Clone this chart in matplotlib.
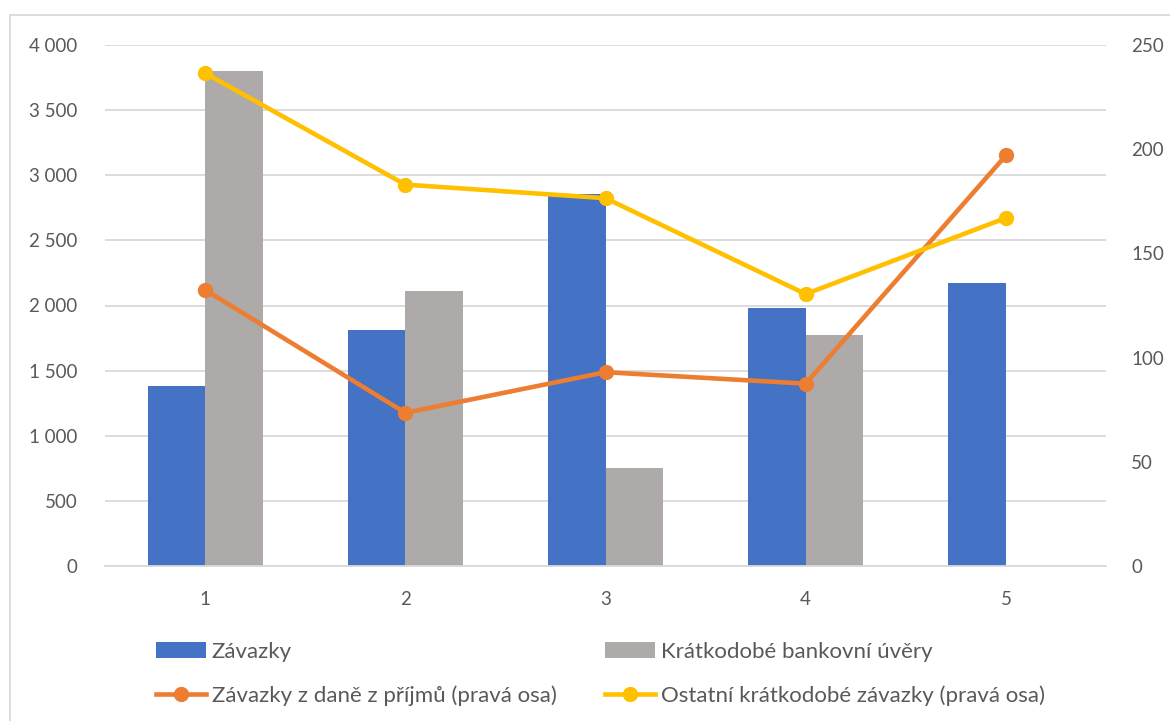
import numpy as np
import matplotlib.pyplot as plt
from matplotlib.patches import Rectangle
from matplotlib.ticker import FuncFormatter

plt.rcParams['font.family'] = ['Lato', 'DejaVu Sans']

# data
kategorie = ['1', '2', '3', '4', '5']
zavazky = [1380, 1810, 2855, 1980, 2175]
bank_uvery = [3800, 2110, 755, 1770, 0]
dan_prijmy = [132.5, 73.5, 93.0, 87.5, 197.0]
ostatni = [236.5, 183.0, 176.5, 130.5, 167.0]

c_blue = '#4472C4'
c_gray = '#AEAAAA'
c_orange = '#ED7D31'
c_yellow = '#FFC000'
c_text = '#595959'
c_grid = '#D9D9D9'

fig = plt.figure(figsize=(11.7, 7.21), dpi=100)
ax = fig.add_axes([105/1170, 1 - 566/721, (1106 - 105)/1170, (566 - 45)/721])
ax2 = ax.twinx()

x = np.arange(len(kategorie))
w = 0.287
b1 = ax.bar(x - w/2, zavazky, w, color=c_blue, label='Závazky', zorder=2)
b2 = ax.bar(x + w/2, bank_uvery, w, color=c_gray, label='Krátkodobé bankovní úvěry', zorder=2)

l1, = ax2.plot(x, dan_prijmy, color=c_orange, lw=3.3, marker='o', ms=10,
               label='Závazky z daně z příjmů (pravá osa)')
l2, = ax2.plot(x, ostatni, color=c_yellow, lw=3.3, marker='o', ms=10,
               label='Ostatní krátkodobé závazky (pravá osa)')

ax.set_xlim(-0.5, 4.5)
ax.set_ylim(0, 4000)
ax2.set_ylim(0, 250)
ax.set_yticks(np.arange(0, 4001, 500))
ax2.set_yticks(np.arange(0, 251, 50))
ax.set_xticks(x)
ax.set_xticklabels(kategorie)
ax.yaxis.set_major_formatter(FuncFormatter(lambda v, p: f'{int(v):,}'.replace(',', ' ')))

ax.grid(axis='y', color=c_grid, lw=1.3, zorder=0)
ax.set_axisbelow(True)
for a in (ax, ax2):
    for s in a.spines.values():
        s.set_visible(False)
    a.tick_params(length=0, labelsize=13.5, labelcolor=c_text)
ax.spines['bottom'].set_visible(True)
ax.spines['bottom'].set_color(c_grid)
ax.spines['bottom'].set_linewidth(1.3)
ax.tick_params(axis='y', pad=20)
ax.tick_params(axis='x', pad=18)
ax2.tick_params(axis='y', pad=18)

# legend in two columns
leg_kw = dict(frameon=False, fontsize=16, handlelength=2.25, handletextpad=0.25,
              labelspacing=1.05, labelcolor=c_text, borderaxespad=0, borderpad=0)
lg1 = fig.legend([b1, l1], [b1.get_label(), l1.get_label()], loc='upper left',
                 bbox_to_anchor=(156/1170, 1 - 642/721), **leg_kw)
lg2 = fig.legend([b2, l2], [b2.get_label(), l2.get_label()], loc='upper left',
                 bbox_to_anchor=(605/1170, 1 - 642/721), **leg_kw)

# chart frame
fig.patches.append(Rectangle((10/1170, -0.05), 1.1, 1 - 15/721 + 0.05,
                             transform=fig.transFigure, fill=False,
                             edgecolor=c_grid, lw=1.3))

fig.savefig('out.png', dpi=100)
